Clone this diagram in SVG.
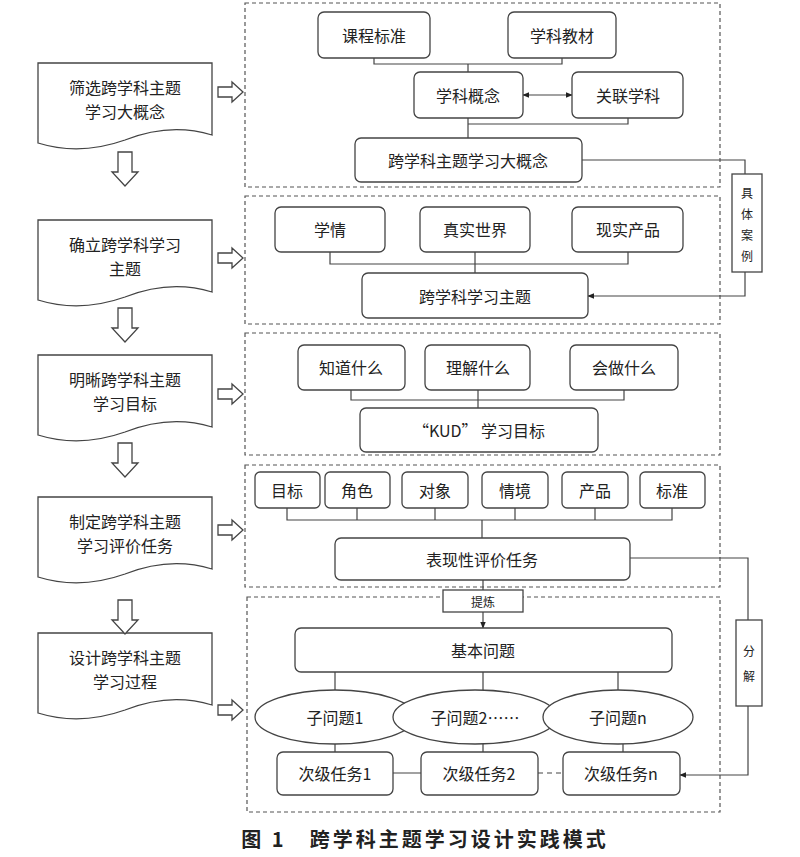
<svg xmlns="http://www.w3.org/2000/svg" width="800" height="857" viewBox="0 0 800 857">
<defs>
<style>
text{font-family:"Noto Sans CJK SC","Liberation Sans",sans-serif;fill:#222;text-anchor:middle;dominant-baseline:central}
.t{font-size:16px}
.s{font-size:12px}
.b{fill:#fff;stroke:#444;stroke-width:1.3}
.d{fill:none;stroke:#555;stroke-width:1.2;stroke-dasharray:4 3}
.c{fill:none;stroke:#444;stroke-width:1.2}
.h{fill:#fff;stroke:#444;stroke-width:1.3}
</style>
<marker id="a" viewBox="0 0 10 10" refX="9" refY="5" markerWidth="6" markerHeight="6" orient="auto-start-reverse"><path d="M0,1 L10,5 L0,9z" fill="#222"/></marker>
<path id="ra" d="M0,-5 H14 V-10 L25,0 L14,10 V5 H0Z"/>
<path id="da" d="M-7,0 V20 H-13 L0,34 L13,20 H7 V0Z"/>
</defs>
<rect width="800" height="857" fill="#fff"/>
<g id="frames">
<rect class="d" x="245" y="3" width="475" height="184"/>
<rect class="d" x="245" y="196" width="475" height="128"/>
<rect class="d" x="245" y="333" width="475" height="122"/>
<rect class="d" x="245" y="465" width="475" height="122"/>
<rect class="d" x="247" y="597" width="473" height="215"/>
</g>
<g id="steps">
<g id="s1"><path class="b" d="M38,63 H212 V135 Q170,122 125,140 Q80,156 38,143Z"/><text class="t" x="125" y="87">筛选跨学科主题</text><text class="t" x="125" y="111">学习大概念</text></g>
<g id="s2"><path class="b" d="M38,220 H212 V292 Q170,279 125,297 Q80,313 38,300Z"/><text class="t" x="125" y="244">确立跨学科学习</text><text class="t" x="125" y="268">主题</text></g>
<g id="s3"><path class="b" d="M38,355 H212 V427 Q170,414 125,432 Q80,448 38,435Z"/><text class="t" x="125" y="379">明晰跨学科主题</text><text class="t" x="125" y="403">学习目标</text></g>
<g id="s4"><path class="b" d="M38,497 H212 V569 Q170,556 125,574 Q80,590 38,577Z"/><text class="t" x="125" y="521">制定跨学科主题</text><text class="t" x="125" y="545">学习评价任务</text></g>
<g id="s5"><path class="b" d="M38,633 H212 V705 Q170,692 125,710 Q80,726 38,713Z"/><text class="t" x="125" y="657">设计跨学科主题</text><text class="t" x="125" y="681">学习过程</text></g>
<use href="#ra" class="h" x="218" y="92"/><use href="#ra" class="h" x="218" y="258"/><use href="#ra" class="h" x="218" y="394"/><use href="#ra" class="h" x="218" y="530"/><use href="#ra" class="h" x="218" y="710"/>
<use href="#da" class="h" x="125" y="152"/><use href="#da" class="h" x="125" y="308"/><use href="#da" class="h" x="125" y="443"/><use href="#da" class="h" x="125" y="600"/>
</g>
<g id="connectors">
<path class="c" d="M374,58 V64 H562 V58 M468,64 V72 M468,118 V124 H628 V118 M468,124 V138"/>
<line class="c" x1="523" y1="95" x2="572" y2="95" marker-start="url(#a)" marker-end="url(#a)"/>
<path class="c" d="M582,160 H745 V174"/>
<path class="c" d="M745,272 V296 H588" marker-end="url(#a)"/>
<path class="c" d="M330,252 V264 H628 V252 M475,252 V273"/>
<path class="c" d="M351,390 V400 H624 V390 M478,390 V408"/>
<path class="c" d="M287,508 V520 H672 V508 M357,508 V520 M435,508 V520 M515,508 V520 M595,508 V520 M482,520 V538"/>
<path class="c" d="M630,558 H748 V620 M748,706 V775 H680" marker-end="url(#a)"/>
<path class="c" d="M483,580 V590"/>
<path class="c" d="M483,612 V628" marker-end="url(#a)"/>
<path class="c" d="M335,672 V690 M483,672 V690 M618,672 V690 M335,744 V752 M483,744 V752 M623,744 V752 M393,773 H421"/>
<path class="c" d="M538,773 H563" stroke-dasharray="5 4"/>
</g>
<g id="n1"><rect class="b" x="318" y="12" width="112" height="46" rx="6"/><text class="t" x="374" y="35">课程标准</text></g>
<g id="n2"><rect class="b" x="508" y="12" width="108" height="46" rx="6"/><text class="t" x="562" y="35">学科教材</text></g>
<g id="n3"><rect class="b" x="414" y="72" width="109" height="46" rx="6"/><text class="t" x="468" y="95">学科概念</text></g>
<g id="n4"><rect class="b" x="572" y="72" width="111" height="46" rx="6"/><text class="t" x="628" y="95">关联学科</text></g>
<g id="n5"><rect class="b" x="355" y="138" width="227" height="44" rx="6"/><text class="t" x="468" y="160">跨学科主题学习大概念</text></g>
<g id="n6"><rect class="b" x="732" y="174" width="30" height="98"/><text class="s" x="747" y="192">具</text><text class="s" x="747" y="213">体</text><text class="s" x="747" y="234">案</text><text class="s" x="747" y="255">例</text></g>
<g id="n7"><rect class="b" x="275" y="207" width="110" height="45" rx="6"/><text class="t" x="330" y="229">学情</text></g>
<g id="n8"><rect class="b" x="420" y="207" width="110" height="45" rx="6"/><text class="t" x="475" y="229">真实世界</text></g>
<g id="n9"><rect class="b" x="572" y="207" width="111" height="45" rx="6"/><text class="t" x="628" y="229">现实产品</text></g>
<g id="n10"><rect class="b" x="362" y="273" width="226" height="45" rx="6"/><text class="t" x="475" y="296">跨学科学习主题</text></g>
<g id="n11"><rect class="b" x="298" y="345" width="107" height="45" rx="6"/><text class="t" x="351" y="367">知道什么</text></g>
<g id="n12"><rect class="b" x="425" y="345" width="105" height="45" rx="6"/><text class="t" x="478" y="367">理解什么</text></g>
<g id="n13"><rect class="b" x="570" y="345" width="108" height="45" rx="6"/><text class="t" x="624" y="367">会做什么</text></g>
<g id="n14"><rect class="b" x="360" y="408" width="238" height="44" rx="6"/><text class="t" x="479" y="430">“KUD” 学习目标</text></g>
<g id="n15"><rect class="b" x="255" y="472" width="65" height="36" rx="5"/><text class="t" x="287" y="490">目标</text></g>
<g id="n16"><rect class="b" x="325" y="472" width="65" height="36" rx="5"/><text class="t" x="357" y="490">角色</text></g>
<g id="n17"><rect class="b" x="402" y="472" width="66" height="36" rx="5"/><text class="t" x="435" y="490">对象</text></g>
<g id="n18"><rect class="b" x="482" y="472" width="66" height="36" rx="5"/><text class="t" x="515" y="490">情境</text></g>
<g id="n19"><rect class="b" x="562" y="472" width="66" height="36" rx="5"/><text class="t" x="595" y="490">产品</text></g>
<g id="n20"><rect class="b" x="640" y="472" width="65" height="36" rx="5"/><text class="t" x="672" y="490">标准</text></g>
<g id="n21"><rect class="b" x="335" y="538" width="295" height="42" rx="6"/><text class="t" x="482" y="559">表现性评价任务</text></g>
<g id="n22"><rect class="b" x="736" y="620" width="26" height="86"/><text class="s" x="749" y="650">分</text><text class="s" x="749" y="675">解</text></g>
<g id="n23"><rect class="b" x="443" y="590" width="80" height="22"/><text class="s" x="483" y="601">提炼</text></g>
<g id="n24"><rect class="b" x="295" y="628" width="377" height="44" rx="6"/><text class="t" x="483" y="650">基本问题</text></g>
<g id="n25"><ellipse class="b" cx="335" cy="717" rx="80" ry="27"/></g>
<g id="n26"><ellipse class="b" cx="475" cy="717" rx="82" ry="27"/></g>
<g id="n27"><ellipse class="b" cx="618" cy="717" rx="75" ry="27"/></g>
<text class="t" x="335" y="717">子问题1</text><text class="t" x="475" y="717">子问题2……</text><text class="t" x="618" y="717">子问题n</text>
<g id="n28"><rect class="b" x="277" y="752" width="116" height="43" rx="6"/><text class="t" x="335" y="773">次级任务1</text></g>
<g id="n29"><rect class="b" x="421" y="752" width="117" height="43" rx="6"/><text class="t" x="479" y="773">次级任务2</text></g>
<g id="n30"><rect class="b" x="563" y="752" width="117" height="43" rx="6"/><text class="t" x="621" y="773">次级任务n</text></g>
<text x="425" y="838" style="font-size:20px;font-weight:bold;letter-spacing:3px">图 1　跨学科主题学习设计实践模式</text>
</svg>
